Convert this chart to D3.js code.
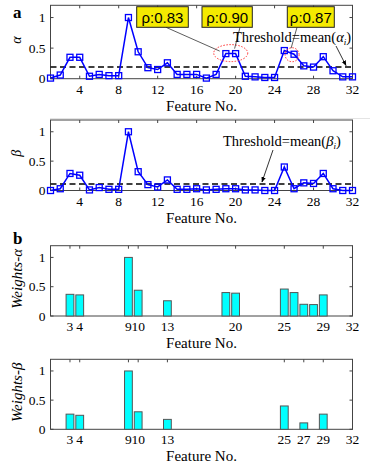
<!DOCTYPE html>
<html>
<head>
<meta charset="utf-8">
<script src="https://cdn.jsdelivr.net/npm/d3@7"></script>
<style>
  html, body { margin: 0; padding: 0; background: #fff; }
  svg { display: block; }
</style>
</head>
<body>
<div id="chart"></div>
<script>
// ---- data ----
const features = d3.range(1, 33);
const alphaVals = [0.01, 0.06, 0.35, 0.35, 0.04, 0.07, 0.05, 0.05, 1.0, 0.44, 0.18, 0.15, 0.26, 0.07, 0.07, 0.07,
                   0.01, 0.07, 0.41, 0.41, 0.04, 0.03, 0.02, 0.02, 0.46, 0.40, 0.21, 0.19, 0.36, 0.13, 0.03, 0.03];
const betaVals = [0.00, 0.03, 0.29, 0.26, 0.01, 0.05, 0.02, 0.02, 1.0, 0.32, 0.10, 0.06, 0.18, 0.02, 0.02, 0.03,
                  0.01, 0.02, 0.03, 0.03, 0.01, 0.01, 0.00, 0.00, 0.40, 0.03, 0.13, 0.12, 0.29, 0.03, 0.00, 0.00];
const alphaThreshold = 0.19;
const betaThreshold = 0.11;

const alphaSelFeat = [3, 4, 9, 10, 13, 19, 20, 25, 26, 27, 28, 29];
const alphaSelWeights = [0.37, 0.36, 1.0, 0.44, 0.26, 0.40, 0.39, 0.46, 0.40, 0.20, 0.195, 0.36];
const alphaBarTicks = [3, 4, 9, 10, 13, 20, 25, 29, 32];

const betaSelFeat = [3, 4, 9, 10, 13, 25, 27, 29];
const betaSelWeights = [0.26, 0.24, 1.0, 0.30, 0.17, 0.40, 0.11, 0.26];
const betaBarTicks = [3, 4, 9, 10, 13, 25, 27, 29, 32];

const lineTicksX = [4, 8, 12, 16, 20, 24, 28, 32];
const ticksY = [0, 0.5, 1];
const rhoLabels = ['ρ:0.83', 'ρ:0.90', 'ρ:0.87'];

// ---- layout ----
const W = 370, H = 465;
const left = 50.5, right = 352.5;
const serif = '"Liberation Serif", "Times New Roman", serif';

const svg = d3.select('#chart').append('svg').attr('width', W).attr('height', H);

svg.append('defs').append('marker')
    .attr('id', 'arr').attr('viewBox', '0 0 10 10').attr('refX', 9).attr('refY', 5)
    .attr('markerWidth', 7).attr('markerHeight', 7).attr('orient', 'auto')
    .append('path').attr('d', 'M0,1 L10,5 L0,9 z').attr('fill', '#000');

const x = d3.scaleLinear().domain([1, 32]).range([left, right]);

function panel(top, bottom, xticks, ylabel, italicLabel) {
    const y = d3.scaleLinear().domain([0, 1.2]).range([bottom, top]);
    const g = svg.append('g');
    // ticks inside on all sides
    const tl = 3;
    xticks.forEach(t => {
        g.append('line').attr('x1', x(t)).attr('x2', x(t)).attr('y1', bottom).attr('y2', bottom - tl).attr('stroke', '#444');
        g.append('line').attr('x1', x(t)).attr('x2', x(t)).attr('y1', top).attr('y2', top + tl).attr('stroke', '#444');
        g.append('text').attr('x', x(t)).attr('y', bottom + 15).attr('text-anchor', 'middle')
            .attr('font-family', serif).attr('font-size', 13.5).text(t);
    });
    ticksY.forEach(t => {
        g.append('line').attr('x1', left).attr('x2', left + tl).attr('y1', y(t)).attr('y2', y(t)).attr('stroke', '#444');
        g.append('line').attr('x1', right).attr('x2', right - tl).attr('y1', y(t)).attr('y2', y(t)).attr('stroke', '#444');
        g.append('text').attr('x', left - 5).attr('y', y(t) + 4.5).attr('text-anchor', 'end')
            .attr('font-family', serif).attr('font-size', 13.5).text(t);
    });
    g.append('rect').attr('x', left).attr('y', top).attr('width', right - left).attr('height', bottom - top)
        .attr('fill', 'none').attr('stroke', '#444').attr('stroke-width', 1);
    g.append('text').attr('x', (left + right) / 2).attr('y', bottom + 32).attr('text-anchor', 'middle')
        .attr('font-family', serif).attr('font-size', 15).text('Feature No.');
    g.append('text')
        .attr('transform', `translate(${italicLabel ? 22 : 21},${(top + bottom) / 2 - 2}) rotate(-90)`)
        .attr('text-anchor', 'middle').attr('font-family', serif).attr('font-size', italicLabel ? 15 : 14)
        .attr('font-style', 'italic')
        .text(ylabel);
    return { g, y };
}

function linePanel(p, vals, thr) {
    p.g.append('line').attr('x1', left).attr('x2', right).attr('y1', p.y(thr)).attr('y2', p.y(thr))
        .attr('stroke', '#000').attr('stroke-width', 1.5).attr('stroke-dasharray', '6,3.5');
    const line = d3.line().x((d, i) => x(features[i])).y(d => p.y(d));
    p.g.append('path').datum(vals).attr('d', line).attr('fill', 'none').attr('stroke', '#0000ff').attr('stroke-width', 1.5);
    p.g.selectAll('rect.m').data(vals).enter().append('rect').attr('class', 'm')
        .attr('x', (d, i) => x(features[i]) - 3).attr('y', d => p.y(d) - 3)
        .attr('width', 6).attr('height', 6).attr('fill', 'none').attr('stroke', '#0000ff').attr('stroke-width', 1.3);
}

function barPanel(p, feats, weights) {
    const bw = 0.8 * (x(2) - x(1));
    p.g.selectAll('rect.b').data(weights).enter().append('rect').attr('class', 'b')
        .attr('x', (d, i) => x(feats[i]) - bw / 2).attr('y', d => p.y(d))
        .attr('width', bw).attr('height', d => p.y(0) - p.y(d))
        .attr('fill', '#00ffff').attr('stroke', '#555').attr('stroke-width', 1);
}

// panel a (alpha)
const pa = panel(5.3, 78.7, lineTicksX, 'α', false);
linePanel(pa, alphaVals, alphaThreshold);
// panel a (beta)
const pb = panel(120, 190.5, lineTicksX, 'β', false);
linePanel(pb, betaVals, betaThreshold);
// panel b
const pc = panel(245.7, 316, alphaBarTicks, 'Weights-α', true);
barPanel(pc, alphaSelFeat, alphaSelWeights);
const pd = panel(359.3, 429.3, betaBarTicks, 'Weights-β', true);
barPanel(pd, betaSelFeat, betaSelWeights);

// faint separator line
svg.append('line').attr('x1', 50).attr('x2', 370).attr('y1', 118.5).attr('y2', 118.5).attr('stroke', '#e4e4e4');

// panel letters
svg.append('text').attr('x', 13).attr('y', 18).attr('font-family', serif).attr('font-weight', 'bold').attr('font-size', 17).text('a');
svg.append('text').attr('x', 13).attr('y', 244).attr('font-family', serif).attr('font-weight', 'bold').attr('font-size', 17).text('b');

// red dotted ellipses around correlated features
const ann = pa.g.append('g');
ann.append('ellipse').attr('cx', x(19.5)).attr('cy', pa.y(alphaVals[18]) - 0.5).attr('rx', 17).attr('ry', 8.5)
    .attr('fill', 'none').attr('stroke', '#ff3030').attr('stroke-width', 1).attr('stroke-dasharray', '1.5,1.5');
ann.append('ellipse').attr('cx', x(25.8)).attr('cy', pa.y(alphaVals[25]) + 0.5).attr('rx', 7).attr('ry', 7)
    .attr('fill', 'none').attr('stroke', '#ff3030').attr('stroke-width', 1).attr('stroke-dasharray', '1.5,1.5');

// leader lines
const leaders = [[166, 27.3, x(19.5) - 11, pa.y(alphaVals[18]) - 2.5],
                 [240, 27.3, x(20) - 1, pa.y(alphaVals[19]) - 5],
                 [297, 27.3, x(25.8) - 1, pa.y(alphaVals[25]) - 6]];
leaders.forEach(l => ann.append('line').attr('x1', l[0]).attr('y1', l[1]).attr('x2', l[2]).attr('y2', l[3])
    .attr('stroke', '#333').attr('stroke-width', 0.8));

// rho boxes
const boxes = [[136.7, 51.6], [202, 50.3], [287.3, 47]];
boxes.forEach((b, i) => {
    ann.append('rect').attr('x', b[0]).attr('y', 6.7).attr('width', b[1]).attr('height', 20.6)
        .attr('fill', '#f5ea00').attr('stroke', '#222').attr('stroke-width', 1);
    ann.append('text').attr('x', b[0] + b[1] / 2).attr('y', 22.5).attr('text-anchor', 'middle')
        .attr('font-family', '"Liberation Sans", Arial, sans-serif').attr('font-size', 15).text(rhoLabels[i]);
});

// threshold labels
function thrLabel(g, tx, ty, sym) {
    const t = g.append('text').attr('x', tx).attr('y', ty).attr('font-family', serif).attr('font-size', 14.5);
    t.append('tspan').text('Threshold=mean(');
    t.append('tspan').attr('font-style', 'italic').text(sym);
    t.append('tspan').attr('font-style', 'italic').attr('font-size', 9).attr('dy', 3).text('i');
    t.append('tspan').attr('dy', -3).text(')');
}
thrLabel(pa.g, 233, 42, 'α');
pa.g.append('line').attr('x1', 336).attr('y1', 46).attr('x2', 346).attr('y2', pa.y(alphaThreshold) - 1.5)
    .attr('stroke', '#000').attr('stroke-width', 0.8).attr('marker-end', 'url(#arr)');
thrLabel(pb.g, 223, 146, 'β');
pb.g.append('line').attr('x1', 273).attr('y1', 150).attr('x2', 262).attr('y2', pb.y(betaThreshold) - 2)
    .attr('stroke', '#000').attr('stroke-width', 0.8).attr('marker-end', 'url(#arr)');
</script>
</body>
</html>
